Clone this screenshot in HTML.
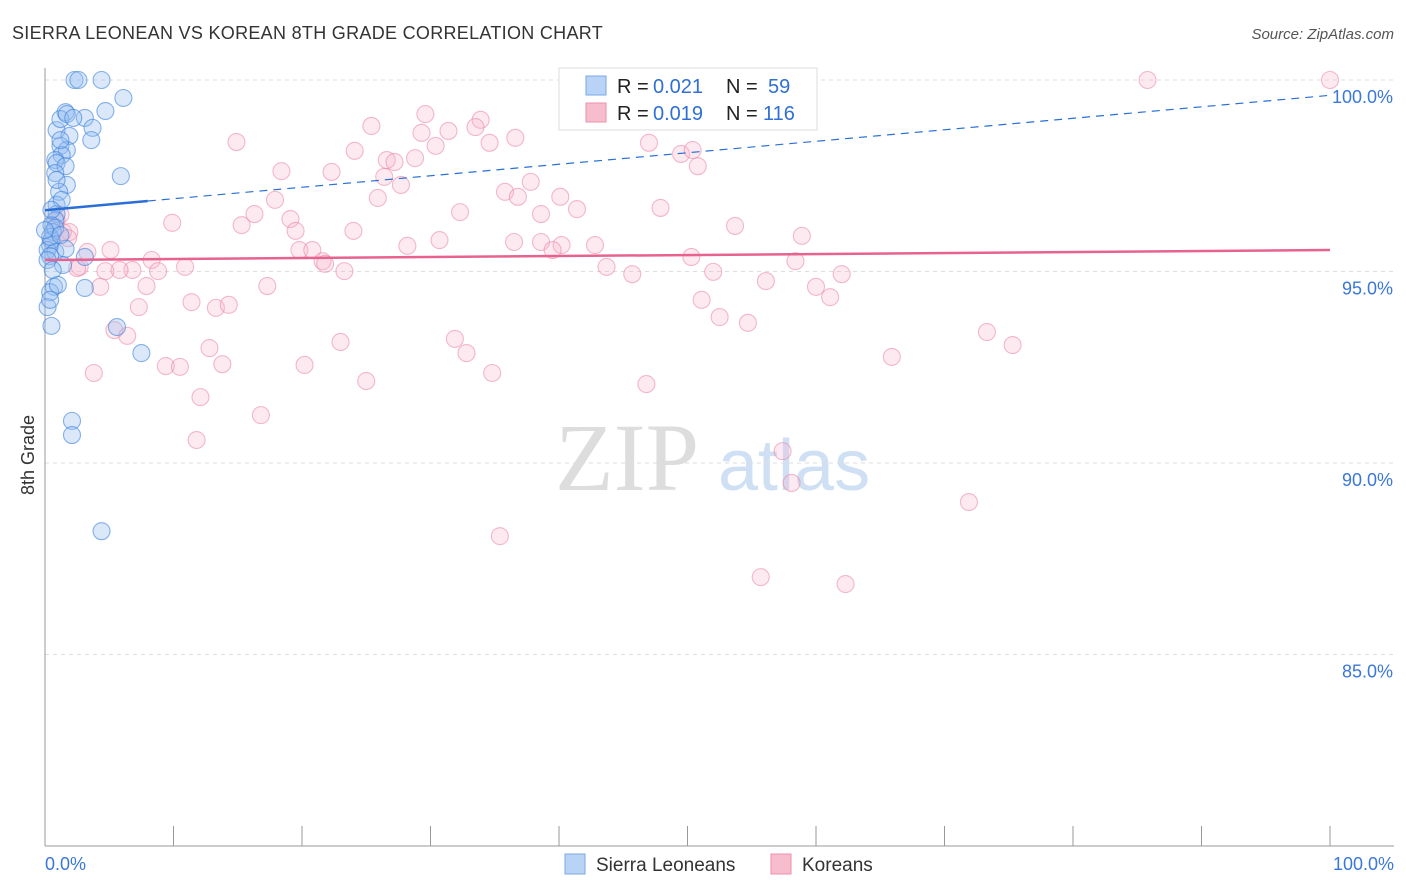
<!DOCTYPE html>
<html><head><meta charset="utf-8"><style>
body{margin:0;background:#fff;font-family:"Liberation Sans",sans-serif;}
#wrap{position:relative;width:1406px;height:892px;overflow:hidden;}
</style></head><body>
<div id="wrap">
<svg id="chart" width="1406" height="892">
<text x="12" y="39" font-size="18" fill="#333" letter-spacing="0.3">SIERRA LEONEAN VS KOREAN 8TH GRADE CORRELATION CHART</text>
<text x="1394" y="39" font-size="15" fill="#555" font-style="italic" text-anchor="end">Source: ZipAtlas.com</text>
<text x="34" y="455" font-size="18" fill="#333" transform="rotate(-90 34 455)" text-anchor="middle">8th Grade</text>
<g><text x="555" y="490" font-size="96" fill="#ddd" font-family="Liberation Serif,serif">ZIP</text><text x="718" y="490" font-size="72" fill="#cfe0f5">atlas</text></g>
<g id="grid"></g><g id="pts"></g><g id="trend"></g>
<g>
<rect x="559" y="68" width="258" height="62" fill="#fff" stroke="#ddd"/>
<rect x="586" y="76" width="20" height="19" fill="#b8d3f5" stroke="#7aa8e8"/>
<rect x="586" y="103" width="20" height="19" fill="#f7bccd" stroke="#ee92ad"/>
<text x="617" y="93" font-size="20" fill="#222">R =</text><text x="653" y="93" font-size="20" fill="#2f6fd6">0.021</text>
<text x="726" y="93" font-size="20" fill="#222">N =</text><text x="768" y="93" font-size="20" fill="#2f6fd6">59</text>
<text x="617" y="120" font-size="20" fill="#222">R =</text><text x="653" y="120" font-size="20" fill="#2f6fd6">0.019</text>
<text x="726" y="120" font-size="20" fill="#222">N =</text><text x="763" y="120" font-size="20" fill="#2f6fd6">116</text>
</g>
<g>
<rect x="565" y="854" width="20" height="20" fill="#b8d3f5" stroke="#7aa8e8"/>
<text x="596" y="871" font-size="19" fill="#333">Sierra Leoneans</text>
<rect x="771" y="854" width="20" height="20" fill="#f7bccd" stroke="#ee92ad"/>
<text x="802" y="871" font-size="19" fill="#333">Koreans</text>
</g>
</svg>
</div>
<script>
const yTicks=[100,95,90,85];
const xTickLabels=["0.0%","100.0%"];
const blueX=[2.3,2.6,4.4,6.1,4.7,0.9,1.6,1.2,1.7,3.1,2.2,3.7,3.6,1.9,1.2,1.7,1.3,0.8,0.9,1.6,0.8,1.7,1.1,5.9,0.9,0.9,0.8,0.5,0.6,0.5,0.4,0.2,0.8,0.4,1.6,3.1,1.4,0.7,0.4,3.1,0.2,0.5,5.6,7.5,2.1,2.1,4.4,0.4,0.8,0.2,1.2,0.9,1.3,0.5,0.6,1.0,0.4,1.2,0];
const blueY=[100,100,100,99.53,99.19,98.69,99.16,98.98,99.11,99.01,99.01,98.75,98.43,98.54,98.28,98.17,98.04,97.91,97.83,97.75,97.57,97.26,97.08,97.49,96.74,96.5,96.34,96.21,96.03,95.82,95.69,95.56,95.51,95.4,95.59,95.38,95.17,94.6,94.46,94.57,94.07,93.58,93.55,92.87,91.1,90.73,88.22,95.9,96.14,95.3,98.43,97.39,96.87,96.61,95.04,94.65,94.26,95.95,96.08];
const pinkX=[40.8,50.0,85.8,100,14.9,25.4,29.6,33.9,33.5,29.3,31.4,30.4,34.6,36.6,24.1,26.6,27.2,28.8,18.4,22.3,26.4,27.7,37.8,35.8,36.8,40.1,25.9,17.9,41.4,32.3,38.6,47.0,49.5,50.4,50.8,47.9,53.7,58.9,9.9,15.3,16.3,19.1,19.5,24.0,30.7,28.2,36.5,38.6,40.2,42.8,39.5,19.8,20.8,21.6,21.8,23.3,8.3,10.9,8.8,6.8,5.8,4.7,2.7,43.7,45.7,50.3,52.0,58.4,62.0,56.1,60.0,61.1,51.1,52.5,54.7,17.3,4.3,7.9,11.4,13.3,14.3,7.3,5.4,6.4,12.8,23.0,31.9,32.8,13.8,9.4,10.5,20.2,3.8,25.0,34.8,46.8,65.9,73.3,75.3,12.1,16.8,11.8,57.4,58.1,71.9,35.4,55.7,62.3,0.9,1.4,1.9,1.2,3.3,2.5,5.1,0.5,1.8];
const pinkY=[100,100,100,100,98.38,98.8,99.11,98.96,98.77,98.62,98.67,98.28,98.36,98.49,98.15,97.91,97.86,97.96,97.62,97.6,97.47,97.26,97.34,97.08,96.95,96.95,96.92,96.87,96.63,96.55,96.5,98.36,98.07,98.17,97.75,96.66,96.19,95.93,96.27,96.21,96.5,96.37,96.06,96.06,95.82,95.67,95.77,95.77,95.69,95.69,95.56,95.56,95.56,95.27,95.2,95.01,95.3,95.12,95.01,95.04,95.04,95.01,95.12,95.12,94.93,95.38,94.99,95.27,94.93,94.75,94.6,94.33,94.26,93.81,93.66,94.62,94.6,94.62,94.2,94.05,94.13,94.07,93.47,93.32,93.0,93.16,93.24,92.87,92.58,92.53,92.51,92.56,92.35,92.14,92.35,92.06,92.77,93.42,93.08,91.72,91.25,90.6,90.31,89.48,88.98,88.09,87.02,86.84,96.34,96.03,96.03,96.48,95.51,95.09,95.56,95.82,95.87];
const blueTrend=[96.6,99.6], pinkTrend=[95.3,95.56];
const X0=45,X1=1330,YT=80,PPU=38.3;
const sx=v=>X0+(X1-X0)*v/100, sy=v=>YT+(100-v)*PPU;
const NS="http://www.w3.org/2000/svg";
function mk(tag,attrs,parent){const e=document.createElementNS(NS,tag);for(const k in attrs)e.setAttribute(k,attrs[k]);parent.appendChild(e);return e;}
const svg=document.getElementById('chart'),grid=document.getElementById('grid'),pts=document.getElementById('pts'),tr=document.getElementById('trend');
yTicks.forEach(t=>{
 const l=mk('line',{x1:X0,x2:1394,y1:sy(t),y2:sy(t),stroke:'#ddd','stroke-dasharray':'4,4'},grid);
 
 
 const tx=mk('text',{x:1393,y:sy(t)+23,'font-size':18,fill:'#3a78d8','text-anchor':'end'},grid);
 tx.textContent=t.toFixed(1)+'%';
 
 
});
const ax=mk('line',{x1:X0,x2:X0,y1:68,y2:846,stroke:'#999'},grid);


const bx=mk('line',{x1:X0,x2:1394,y1:846,y2:846,stroke:'#999'},grid);


for(let i=0;i<=10;i++){const t=mk('line',{x1:sx(i*10),x2:sx(i*10),y1:826,y2:846,stroke:'#999'},grid);
 
 }
[[X0,'start',0],[1394,'end',1]].forEach(([x,a,i])=>{const t=mk('text',{x:x,y:870,'font-size':18,fill:'#3a78d8','text-anchor':a},grid);t.textContent=xTickLabels[i];
 
 });
pinkX.forEach((v,i)=>{const c=mk('circle',{cx:sx(v),cy:sy(pinkY[i]),r:8.5,fill:'rgba(247,178,200,0.28)',stroke:'rgba(234,130,165,0.55)','stroke-width':1.1},pts);
 
 });
blueX.forEach((v,i)=>{const c=mk('circle',{cx:sx(v),cy:sy(blueY[i]),r:8.5,fill:'rgba(150,190,240,0.35)',stroke:'rgba(60,130,220,0.6)','stroke-width':1.1},pts);
 
 });
const bAt=x=>blueTrend[0]+(blueTrend[1]-blueTrend[0])*x/100;
let l1=mk('line',{x1:sx(0),y1:sy(bAt(0)),x2:sx(8),y2:sy(bAt(8)),stroke:'#2a6fd6','stroke-width':2.5},tr);


let l2=mk('line',{x1:sx(8),y1:sy(bAt(8)),x2:sx(100),y2:sy(bAt(100)),stroke:'#2a6fd6','stroke-width':1.2,'stroke-dasharray':'8,6'},tr);


let l3=mk('line',{x1:sx(0),y1:sy(pinkTrend[0]),x2:sx(100),y2:sy(pinkTrend[1]),stroke:'#e8628f','stroke-width':2.5},tr);


</script>
</body></html>
